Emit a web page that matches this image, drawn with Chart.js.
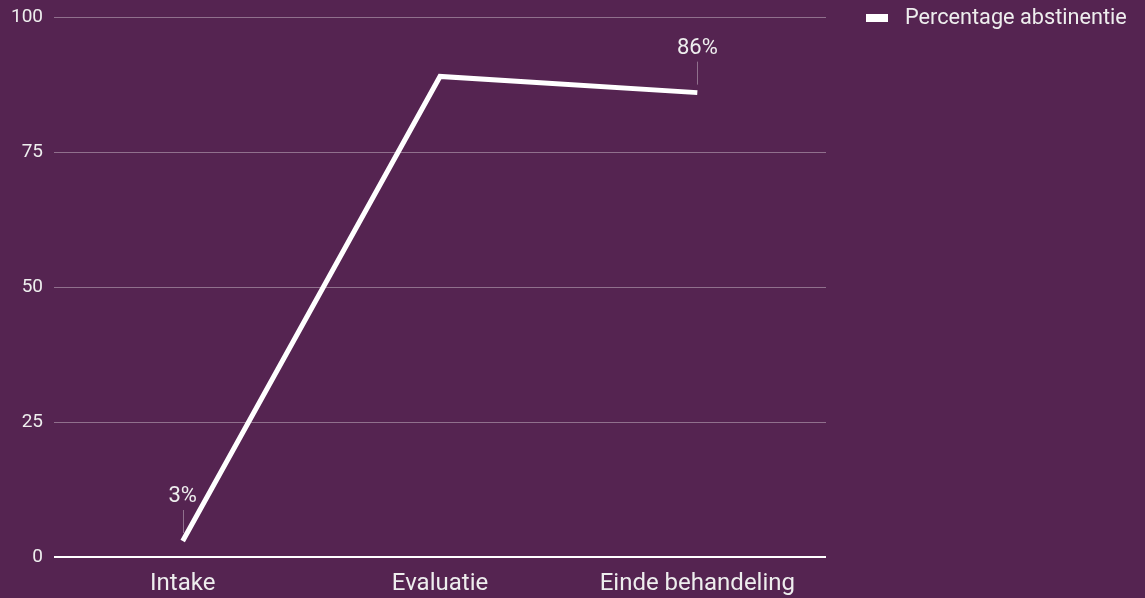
<!DOCTYPE html>
<html>
<head>
<meta charset="utf-8">
<script src="https://cdn.jsdelivr.net/npm/chart.js@4/dist/chart.umd.min.js"></script>
<style>
  html, body { margin: 0; padding: 0; background: #552451; overflow: hidden; }
  canvas { display: block; }
</style>
</head>
<body>
<canvas id="chart" width="1145" height="598"></canvas>
<script>
const labels = ['Intake', 'Evaluatie', 'Einde behandeling'];
const abstinentie = [3, 89, 86];
const puntLabels = ['3%', '', '86%'];
const yTicks = [0, 25, 50, 75, 100];

// labels boven de punten met een dun lijntje
const annotaties = {
    id: 'annotaties',
    afterDatasetsDraw(chart) {
        const c = chart.ctx;
        const meta = chart.getDatasetMeta(0);
        c.save();
        meta.data.forEach((p, i) => {
            const txt = puntLabels[i];
            if (!txt) return;
            c.strokeStyle = 'rgba(255,255,255,0.35)';
            c.lineWidth = 1;
            c.beginPath();
            c.moveTo(Math.round(p.x) + 0.5, p.y - 8);
            c.lineTo(Math.round(p.x) + 0.5, p.y - 31);
            c.stroke();
            c.fillStyle = '#eeeeee';
            c.font = '22px Roboto';
            c.textAlign = 'center';
            c.textBaseline = 'middle';
            c.fillText(txt, p.x, p.y - 44);
        });
        c.restore();
    }
};

// legenda rechtsboven, zelf getekend
const legenda = {
    id: 'legenda',
    afterDraw(chart) {
        const c = chart.ctx;
        const ds = chart.data.datasets[0];
        c.save();
        c.fillStyle = ds.borderColor;
        c.fillRect(866, 14, 22, 8);
        c.fillStyle = '#eeeeee';
        c.font = '21.7px Roboto';
        c.textAlign = 'left';
        c.textBaseline = 'middle';
        c.fillText(ds.label, 905, 19);
        c.restore();
    }
};

const ctx = new Chart(document.getElementById('chart'), {
    type: 'line',
    data: {
        labels: labels,
        datasets: [{
            label: 'Percentage abstinentie',
            data: abstinentie,
            borderColor: '#ffffff',
            backgroundColor: '#ffffff',
            borderWidth: 5,
            borderJoinStyle: 'miter',
            pointRadius: 0,
            tension: 0
        }]
    },
    options: {
        responsive: false,
        animation: false,
        layout: { padding: { top: 0, left: 0, right: 319, bottom: -12 } },
        scales: {
            x: {
                offset: true,
                grid: { display: false, drawTicks: false },
                border: { display: false },
                ticks: { color: '#eeeeee', font: { family: 'Roboto', size: 24 }, padding: 12 }
            },
            y: {
                min: 0,
                max: 100,
                afterBuildTicks: axis => { axis.ticks = yTicks.map(v => ({ value: v })); },
                afterFit: axis => { axis.paddingTop = 17; },
                grid: {
                    drawTicks: false,
                    color: ctx => ctx.tick && ctx.tick.value === 0 ? '#ffffff' : 'rgba(255,255,255,0.35)',
                    lineWidth: ctx => ctx.tick && ctx.tick.value === 0 ? 2 : 1
                },
                border: { display: false },
                ticks: { color: '#eeeeee', font: { family: 'Roboto', size: 19 }, padding: 11 }
            }
        },
        plugins: {
            legend: { display: false },
            tooltip: { enabled: false }
        }
    },
    plugins: [annotaties, legenda]
});
</script>
</body>
</html>
